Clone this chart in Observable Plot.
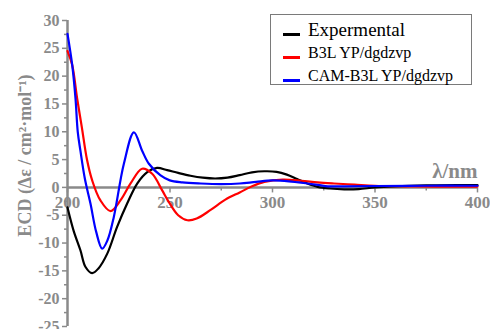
<!DOCTYPE html>
<html>
<head>
<meta charset="utf-8">
<script src="https://cdn.jsdelivr.net/npm/d3@7"></script>
<script src="https://cdn.jsdelivr.net/npm/@observablehq/plot@0.6"></script>
<style>
  html, body { margin: 0; padding: 0; background: #fff; }
  #wrap { position: relative; width: 490px; height: 329px; font-family: "Liberation Serif", "DejaVu Serif", serif; }
  #legend { position: absolute; left: 270px; top: 14px; width: 200px; height: 69px; border: 1.5px solid #7a7a7a; background: #fff; }
  .item { position: absolute; left: 0; white-space: nowrap; color: #000; }
  .item .sw { position: absolute; left: 12px; width: 17px; height: 2.5px; }
  .item .lb { position: absolute; left: 37px; line-height: 1; }
</style>
</head>
<body>
<div id="wrap"></div>
<script>
// ---- data ----
const seriesNames = ["Expermental", "B3L YP/dgdzvp", "CAM-B3L YP/dgdzvp"];
const seriesColors = ["#000000", "#ff0000", "#0000ff"];

const expWl  = [200, 203, 206.3, 208.8, 212, 215, 219.4, 224.2, 229.1, 234, 238.9, 243.7, 248.6, 254, 260, 266, 272, 278, 284, 290, 296, 302, 307, 312, 317, 322, 328, 335, 342, 350, 360, 375, 390, 400];
const expVal = [-3.6, -7.8, -11.3, -14.3, -15.4, -14.6, -11.9, -7.1, -2.9, 0.7, 2.75, 3.5, 3.1, 2.6, 2.1, 1.75, 1.6, 1.75, 2.2, 2.7, 2.9, 2.8, 2.3, 1.5, 0.7, 0.1, -0.2, -0.35, -0.3, 0, 0.2, 0.35, 0.4, 0.4];

const b3Wl  = [200, 202.3, 204.7, 207, 209.5, 212, 216, 221, 225.9, 230.7, 236.4, 241.3, 246.2, 249.4, 254, 258.5, 263, 270, 277, 284, 290, 296, 305, 314, 322, 330, 340, 350, 365, 380, 400];
const b3Val = [24.5, 22, 16, 10.8, 5, 1.3, -2.3, -4.25, -2.3, 0.66, 3.35, 2.46, -0.54, -2.6, -5, -5.9, -5.6, -4, -2.2, -0.9, 0.2, 1.0, 1.4, 1.2, 0.9, 0.7, 0.5, 0.3, 0.2, 0.15, 0.15];

const camWl  = [200, 202.3, 203.9, 205, 206.3, 208.5, 211.2, 214, 216.9, 219.5, 222.6, 227.5, 232.4, 236.4, 239.7, 245.4, 249.9, 256, 265, 275, 284, 292, 300, 308, 317, 323, 327, 335, 350, 375, 400];
const camVal = [27.6, 22, 16, 10, 6.6, 1.5, -2.9, -8, -11, -9.5, -5.3, 4.25, 9.9, 6.6, 4.25, 2.15, 1.26, 0.9, 0.7, 0.6, 0.7, 1.0, 1.25, 1.1, 0.7, 0.4, 0.2, 0.2, 0.25, 0.3, 0.3];

const xTicksMajor = [200, 250, 300, 350, 400];
const xTicksMinor = [225, 275, 325, 375];
const yTicksMajor = [-25, -20, -15, -10, -5, 0, 5, 10, 15, 20, 25, 30];
const yTicksMinor = [-22.5, -17.5, -12.5, -7.5, -2.5, 2.5, 7.5, 12.5, 17.5, 22.5, 27.5];
const xTitle = "λ/nm";
const yTitle = "ECD (Δε / cm²·mol⁻¹)";

// ---- build table ----
const rows = [];
[[expWl, expVal], [b3Wl, b3Val], [camWl, camVal]].forEach(([wl, v], i) => {
  wl.forEach((w, j) => rows.push({series: seriesNames[i], wl: w, v: v[j]}));
});

const gray = "#8a8a8a";
const downTick = { draw(ctx, size) { const l = Math.sqrt(size / Math.PI); ctx.moveTo(0, 0); ctx.lineTo(0, l); } };

const chart = Plot.plot({
  width: 490,
  height: 329,
  marginLeft: 67,
  marginRight: 13,
  marginTop: 20,
  marginBottom: 3,
  style: { fontFamily: "Liberation Serif", background: "#fff" },
  x: { domain: [200, 400], axis: null },
  y: { domain: [-25, 30], axis: null },
  color: { domain: seriesNames, range: seriesColors },
  marks: [
    Plot.axisY({ ticks: yTicksMajor, tickSize: 5, tickPadding: 3, tickFormat: d => String(d), label: null,
                 stroke: gray, fill: gray, fontSize: 16, fontWeight: "bold", strokeWidth: 1.5 }),
    Plot.axisY({ ticks: yTicksMinor, tickSize: 3, text: null, label: null, stroke: gray, strokeWidth: 1.5 }),
    Plot.ruleX([200], { stroke: gray, strokeWidth: 2.5 }),
    Plot.ruleY([0], { stroke: gray, strokeWidth: 2.5 }),
    Plot.dot(xTicksMajor, { x: d => d, y: 0, symbol: downTick, r: 5, stroke: gray, strokeWidth: 1.5, fill: "none" }),
    Plot.dot(xTicksMinor, { x: d => d, y: 0, symbol: downTick, r: 3, stroke: gray, strokeWidth: 1.5, fill: "none" }),
    Plot.text(xTicksMajor, { x: d => d, y: 0, text: d => String(d), dy: 15, fill: gray, fontSize: 17, fontWeight: "bold" }),
    Plot.text([xTitle], { x: 400, y: 0, text: d => d, textAnchor: "end", dy: -16, fill: gray, fontSize: 21, fontWeight: "bold" }),
    Plot.text([yTitle], { frameAnchor: "left", text: d => d, textAnchor: "middle", rotate: -90, dx: -42, dy: -18, fill: gray, fontSize: 18, fontWeight: "bold" }),
    Plot.line(rows, { x: "wl", y: "v", z: "series", stroke: "series", strokeWidth: 2.2, curve: "catmull-rom" })
  ]
});

const wrap = document.getElementById("wrap");
wrap.appendChild(chart);

// legend (HTML overlay)
const legend = document.createElement("div");
legend.id = "legend";
const tops = [19, 42, 65];
const sizes = [19, 16, 16];
seriesNames.forEach((name, i) => {
  const it = document.createElement("div");
  it.className = "item";
  it.style.top = tops[i] + "px";
  const sw = document.createElement("div");
  sw.className = "sw";
  sw.style.background = seriesColors[i];
  sw.style.top = "-1px";
  const lb = document.createElement("div");
  lb.className = "lb";
  lb.textContent = name;
  lb.style.fontSize = sizes[i] + "px";
  lb.style.top = (-sizes[i] * 0.72) + "px";
  it.appendChild(sw);
  it.appendChild(lb);
  legend.appendChild(it);
});
wrap.appendChild(legend);
</script>
</body>
</html>
